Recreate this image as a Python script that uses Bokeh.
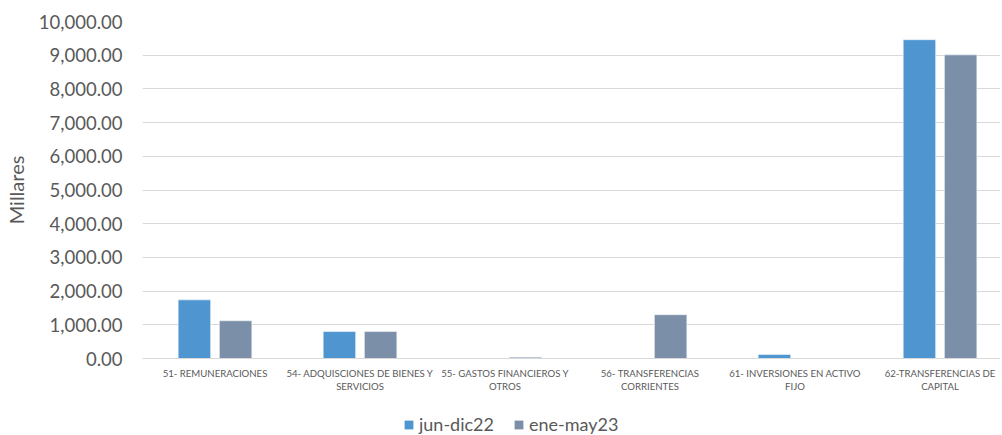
import numpy as np
from bokeh.plotting import figure
from bokeh.layouts import column
from bokeh.models import (ColumnDataSource, Range1d, FixedTicker, NumeralTickFormatter,
                          Legend, LegendItem)
from bokeh.transform import dodge
from bokeh.embed import file_html
from bokeh.resources import INLINE

categories = ["51- REMUNERACIONES",
              "54- ADQUISCIONES DE BIENES Y\nSERVICIOS",
              "55- GASTOS FINANCIEROS Y\nOTROS",
              "56- TRANSFERENCIAS\nCORRIENTES",
              "61- INVERSIONES EN ACTIVO\nFIJO",
              "62-TRANSFERENCIAS DE\nCAPITAL"]
jun_dic22 = [1740, 800, 0, 0, 120, 9460]
ene_may23 = [1120, 800, 40, 1300, 0, 9010]
series_names = ["jun-dic22", "ene-may23"]
series_colors = ["#4f95d0", "#7b8fa9"]
y_ticks = [0, 1000, 2000, 3000, 4000, 5000, 6000, 7000, 8000, 9000, 10000]

pos = list(np.arange(len(categories)) + 0.5)
src = ColumnDataSource(dict(x=pos, a=jun_dic22, b=ene_may23))

FONT = "Lato"
GREY = "#595959"

p = figure(width=1000, height=398, output_backend="svg", toolbar_location=None,
           x_range=Range1d(0, 5.917), y_range=Range1d(0, 10000),
           min_border_left=142, min_border_right=0, min_border_top=21,
           min_border_bottom=40)
p.outline_line_color = None

p.vbar(x=dodge("x", -0.142, range=p.x_range), top="a", width=0.224, source=src,
       fill_color=series_colors[0], line_color="#f4f8fc", line_width=0.6)
p.vbar(x=dodge("x", 0.142, range=p.x_range), top="b", width=0.224, source=src,
       fill_color=series_colors[1], line_color="#f4f6f8", line_width=0.6)

# y axis
p.yaxis.ticker = FixedTicker(ticks=y_ticks)
p.yaxis.formatter = NumeralTickFormatter(format="0,0.00")
p.yaxis.axis_line_color = None
p.yaxis.major_tick_line_color = None
p.yaxis.minor_tick_line_color = None
p.yaxis.major_tick_out = 0
p.yaxis.minor_tick_out = 0
p.yaxis.major_label_text_font = FONT
p.yaxis.major_label_text_font_size = "18.5px"
p.yaxis.major_label_text_color = GREY
p.yaxis.major_label_standoff = 20
p.yaxis.axis_label = "Millares"
p.yaxis.axis_label_text_font = FONT
p.yaxis.axis_label_text_font_size = "20px"
p.yaxis.axis_label_text_font_style = "normal"
p.yaxis.axis_label_text_color = GREY
p.yaxis.axis_label_standoff = 8

# x axis
p.xaxis.ticker = FixedTicker(ticks=pos)
p.xaxis.major_label_overrides = {float(x): c for x, c in zip(pos, categories)}
p.xaxis.axis_line_color = "#d9d9d9"
p.xaxis.major_tick_line_color = None
p.xaxis.minor_tick_line_color = None
p.xaxis.major_tick_out = 0
p.xaxis.minor_tick_out = 0
p.xaxis.major_label_text_font = FONT
p.xaxis.major_label_text_font_size = "9.6px"
p.xaxis.major_label_text_color = GREY
p.xaxis.major_label_standoff = 9

p.xgrid.grid_line_color = None
p.ygrid.grid_line_color = "#d9d9d9"
p.ygrid.grid_line_width = 1

# legend strip (its zero-width bars are outside the visible range; only the legend shows)
lg = figure(width=1000, height=37, output_backend="svg", toolbar_location=None,
            x_range=Range1d(100, 101), y_range=Range1d(50000, 60000),
            min_border_left=0, min_border_right=0, min_border_top=0, min_border_bottom=0)
lg.outline_line_color = None
lg.axis.visible = False
lg.grid.visible = False
items = []
for name, col, key in zip(series_names, series_colors, ["a", "b"]):
    r = lg.vbar(x="x", top=key, width=0, source=src, fill_color=col, line_color=None)
    items.append(LegendItem(label=name, renderers=[r]))
legend = Legend(items=items, orientation="horizontal", location=(261, 0),
                label_text_font=FONT, label_text_font_size="18px",
                label_text_color=GREY, glyph_width=11, glyph_height=11,
                spacing=19, label_standoff=5, border_line_color=None,
                background_fill_alpha=0, padding=0, margin=0)
lg.add_layout(legend, "center")

layout = column(p, lg, spacing=0)
open("out.html", "w").write(file_html(layout, INLINE))
